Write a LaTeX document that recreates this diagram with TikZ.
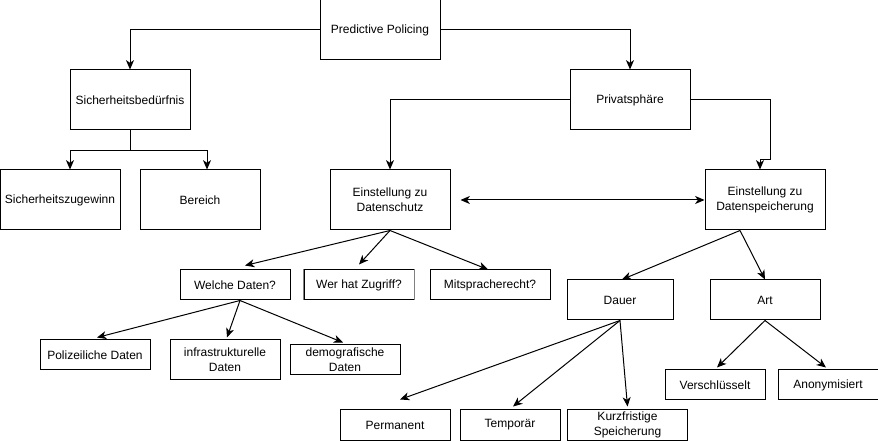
\documentclass[tikz,border=0pt]{standalone}
\usepackage{fontspec}
\setmainfont{Liberation Sans}
\usetikzlibrary{arrows.meta}
\tikzset{
  px/.style={x=0.75pt,y=-0.75pt},
  bx/.style 2 args={draw=black, line width=0.75pt, fill=white, minimum width=#1*0.75pt, minimum height=#2*0.75pt, inner sep=0pt, align=center, font=\fontsize{9}{11.25}\selectfont},
  arr/.style={line width=0.75pt, -{Stealth[length=7pt,width=6pt,inset=2pt]}},
  arrb/.style={line width=0.75pt, {Stealth[length=7pt,width=6pt,inset=2pt]}-{Stealth[length=7pt,width=6pt,inset=2pt]}},
  grayside/.style={draw=black!50, line width=1.1pt},
}
\begin{document}
\begin{tikzpicture}[px]
\useasboundingbox (0,0) rectangle (878,441);
% nodes
\node[bx={120}{60}] (pp) at (380,30) {Predictive Policing};
\node[bx={120}{60}] (sb) at (130,100) {Sicherheitsbedürfnis};
\node[bx={120}{60}] (pv) at (630,100) {Privatsphäre};
\node[bx={120}{60}] (sz) at (60,200) {Sicherheitszugewinn};
\node[bx={120}{60}] (be) at (200,200) {Bereich};
\node[bx={120}{60}] (ds) at (390,200) {Einstellung zu\\Datenschutz};
\node[bx={120}{60}] (dsp) at (765,200) {Einstellung zu\\Datenspeicherung};
\node[bx={110}{30}] (wd) at (235,285) {Welche Daten?};
\node[bx={110}{30}] (wz) at (359,285) {Wer hat Zugriff?};
\draw[grayside] (wz.north west) -- (wz.south west) (wz.north east) -- (wz.south east);
\node[bx={120}{30}] (mr) at (490,285) {Mitspracherecht?};
\node[bx={106}{40}] (da) at (620,300) {Dauer};
\node[bx={110}{40}] (ar) at (765,300) {Art};
\node[bx={110}{30}] (pd) at (95,355) {Polizeiliche Daten};
\node[bx={110}{40}] (inf) at (225,360) {infrastrukturelle\\Daten};
\node[bx={110}{30}] (dem) at (345,360) {demografische\\Daten};
\node[bx={100}{30}] (vs) at (715,385) {Verschlüsselt};
\node[bx={100}{30}] (an) at (828,385) {Anonymisiert};
\node[bx={110}{30}] (pm) at (395,425) {Permanent};
\node[bx={100}{30}] (tp) at (510,425) {Temporär};
\node[bx={120}{30}] (kz) at (627.5,425) {Kurzfristige\\Speicherung};
% connectors
\draw[arr] (pp.west) -| (sb.north);
\draw[arr] (pp.east) -| (pv.north);
\draw[arr] (sb.south) -- ++(0,20) -| ([xshift=7.5pt]sz.north);
\draw[arr] (sb.south) -- ++(0,20) -| ([xshift=5.25pt]be.north);
\draw[arr] (pv.west) -| (ds.north);
\draw[arr] (pv.east) -- ++(80,0) -- ++(0,60) -| ([xshift=-3.75pt]dsp.north);
\coordinate (dsl) at ([xshift=7.5pt]ds.east);
\draw[arrb] (dsl) -- (dsp.west);
\draw[arr] (ds.south) -- ([xshift=7.5pt,yshift=3pt]wd.north);
\draw[arr] (ds.south) -- ([yshift=3.75pt]wz.north);
\draw[arr] (ds.south) -- ([xshift=-1.5pt]mr.north);
\draw[arr] ([xshift=3.75pt]wd.south) -- ([xshift=1.5pt,yshift=1.5pt]pd.north);
\draw[arr] ([xshift=3.75pt]wd.south) -- ([xshift=1.5pt,yshift=1.5pt]inf.north);
\draw[arr] ([xshift=3.75pt]wd.south) -- ([xshift=-1.5pt,yshift=1.5pt]dem.north);
\draw[arr] ([xshift=-18.75pt]dsp.south) -- ([xshift=1.5pt]da.north);
\draw[arr] ([xshift=-18.75pt]dsp.south) -- (ar.north);
\draw[arr] (da.south) -- ([xshift=3.75pt,yshift=7.5pt]pm.north);
\draw[arr] (da.south) -- ([xshift=2.25pt,yshift=2.25pt]tp.north);
\draw[arr] (da.south) -- ([yshift=2.25pt]kz.north);
\draw[arr] (ar.south) -- ([xshift=1.5pt,yshift=1.5pt]vs.north);
\draw[arr] (ar.south) -- ([xshift=-1.5pt,yshift=1.5pt]an.north);
\end{tikzpicture}
\end{document}
